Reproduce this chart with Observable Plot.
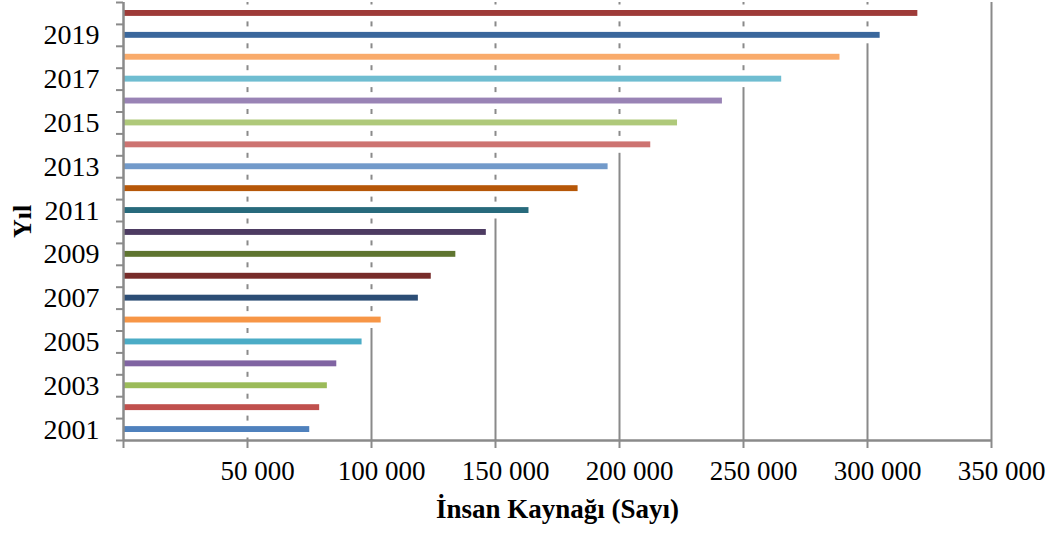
<!DOCTYPE html>
<html><head><meta charset="utf-8">
<script src="https://cdn.jsdelivr.net/npm/d3@7"></script>
<script src="https://cdn.jsdelivr.net/npm/@observablehq/plot@0.6"></script>
<style>body{margin:0;background:#fff}</style>
</head><body><div id="chart"></div>
<script>
const years = [2001,2002,2003,2004,2005,2006,2007,2008,2009,2010,2011,2012,2013,2014,2015,2016,2017,2018,2019,2020];
const values = [75100,79100,82200,86000,96200,103900,118900,124100,134000,146300,163500,183300,195400,212600,223400,241500,265400,288900,305100,320300];
const colors = ["#4F81BD","#C0504D","#9BBB59","#8064A2","#4BACC6","#F79646","#2C4D75","#772C2A","#5F7530","#4D3B62","#276A7C","#B65708","#729ACA","#CD7371","#AFC97A","#9983B5","#6FBDD1","#F9AB6B","#3A679C","#9E3B38"];
const xTicks = [0,50000,100000,150000,200000,250000,300000,350000];
const yLabelYears = [2001,2003,2005,2007,2009,2011,2013,2015,2017,2019];
const xTitle = "İnsan Kaynağı (Sayı)";
const yTitle = "Yıl";

const data = years.map((year, i) => ({year, value: values[i], color: colors[i]}));
const yBoundaries = years.map(y => y - 0.5).concat([years[years.length - 1] + 0.5]);
const fmt = d3.formatLocale({thousands: " ", grouping: [3], currency: ["", ""], decimal: "."}).format(",");
const gray = "#8a8a8a";

const chart = Plot.plot({
  width: 1053, height: 534,
  marginLeft: 123, marginRight: 62, marginTop: 2, marginBottom: 94,
  style: {fontFamily: "'Liberation Serif', 'Times New Roman', serif", fontSize: "27px", color: "#000", background: "#fff"},
  x: {domain: [0, 350000], label: null},
  y: {domain: [2000.5, 2020.5], label: null},
  marks: [
    Plot.ruleX(xTicks.slice(1), {stroke: gray, strokeWidth: 2}),
    Plot.rectX(data, {x1: 0, x2: "value", y1: d => d.year - 0.5, y2: d => d.year + 0.5, insetTop: 2.5, insetBottom: 2.5, fill: "white"}),
    Plot.rectX(data, {x1: 0, x2: "value", y1: d => d.year - 0.5, y2: d => d.year + 0.5, insetTop: 8, insetBottom: 8, fill: d => d.color}),
    Plot.ruleX([0], {stroke: gray, strokeWidth: 2.5}),
    Plot.ruleY([2000.5], {stroke: gray, strokeWidth: 2.5}),
    Plot.axisX({ticks: xTicks, tickSize: 8, tickFormat: () => "", stroke: gray, strokeWidth: 2}),
    Plot.axisX({ticks: xTicks.slice(1), tickSize: 0, tickPadding: 20, dx: 10, tickFormat: fmt, fill: "black", fontSize: 27}),
    Plot.axisY({ticks: yBoundaries, tickSize: 7, tickFormat: () => "", stroke: gray, strokeWidth: 2}),
    Plot.axisY({ticks: yLabelYears, tickSize: 0, tickPadding: 24, tickFormat: d => String(d), fill: "black", fontSize: 28}),
    Plot.text([xTitle], {text: d => d, frameAnchor: "bottom", dy: 77, fontWeight: "bold", fontSize: 27, fill: "black"}),
    Plot.text([yTitle], {text: d => d, frameAnchor: "left", textAnchor: "middle", lineAnchor: "middle", dx: -101, rotate: -90, fontWeight: "bold", fontSize: 26, fill: "black"})
  ]
});
document.getElementById("chart").append(chart);
</script>
</body></html>
